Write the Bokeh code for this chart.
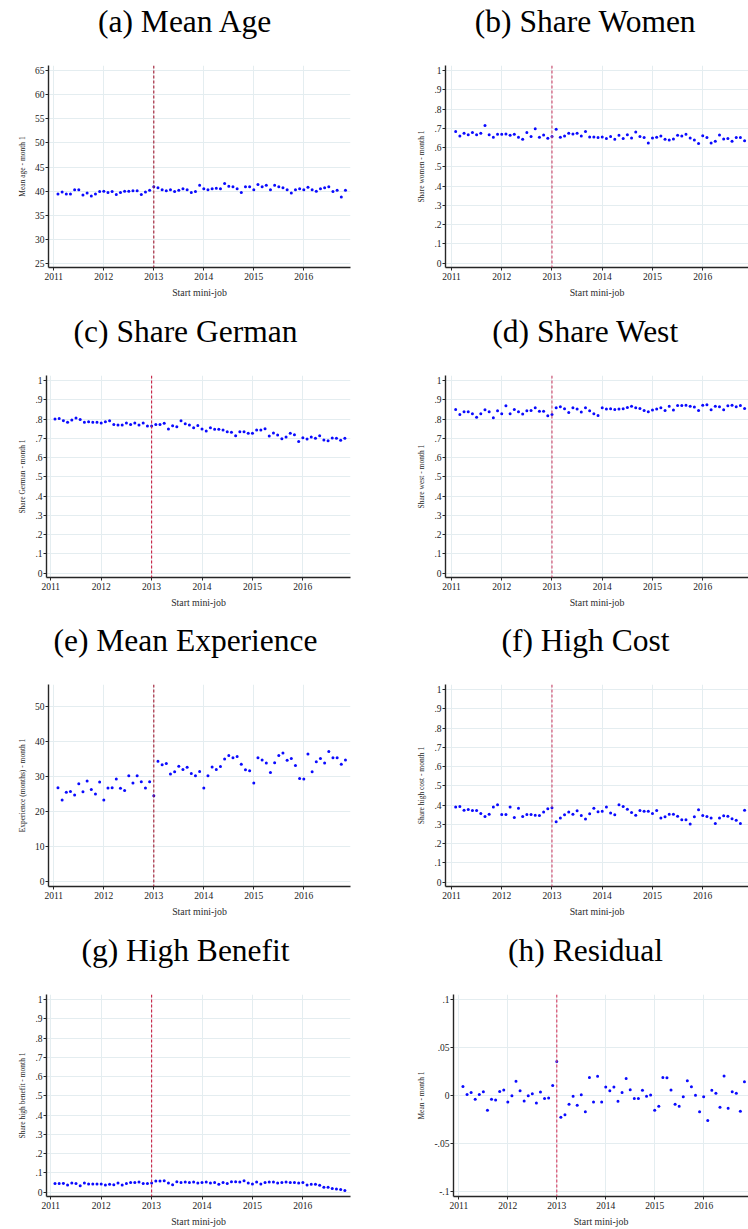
import pandas as pd
from bokeh.plotting import figure
from bokeh.layouts import column, row
from bokeh.models import Span, FixedTicker, Range1d, LinearAxis
from bokeh.embed import file_html
from bokeh.resources import INLINE

# ---------------- data ----------------
months = pd.period_range("2011-02", "2016-11", freq="M")
x_month = [m.year + (m.month - 1) / 12 for m in months]

year_ticks = [2011, 2012, 2013, 2014, 2015, 2016]
reform_date = 2013

mean_age = [39.4, 39.8, 39.4, 39.4, 40.3, 40.3, 39.2, 39.6, 39.0, 39.4,
            39.9, 40.0, 39.7, 39.9, 39.3, 39.7, 40.0, 40.0, 40.1, 40.1,
            39.3, 39.8, 40.2, 40.9, 40.7, 40.3, 40.1, 40.3, 39.9, 40.2,
            40.5, 40.3, 39.7, 39.9, 41.2, 40.5, 40.3, 40.5, 40.6, 40.5,
            41.6, 41.0, 40.9, 40.5, 39.7, 40.9, 40.9, 40.3, 41.4, 40.9,
            41.2, 40.3, 41.2, 40.9, 40.7, 40.3, 39.6, 40.3, 40.5, 40.3,
            40.8, 40.3, 40.0, 40.5, 40.7, 40.9, 39.9, 40.2, 38.8, 40.2]

share_women = [.684, .660, .674, .667, .678, .667, .674, .715, .667, .654,
               .669, .669, .671, .664, .669, .654, .643, .679, .657, .698,
               .654, .666, .648, .657, .695, .654, .660, .674, .671, .674,
               .660, .684, .655, .655, .652, .655, .647, .657, .643, .664,
               .647, .667, .650, .681, .657, .652, .624, .650, .654, .660,
               .643, .640, .645, .664, .660, .669, .650, .640, .621, .662,
               .652, .624, .633, .666, .645, .647, .633, .652, .652, .635]

share_german = [.800, .803, .791, .784, .795, .805, .798, .784, .786, .784,
                .783, .779, .786, .791, .772, .769, .769, .779, .772, .779,
                .769, .779, .764, .764, .772, .772, .778, .748, .765, .760,
                .791, .776, .769, .755, .767, .748, .738, .755, .747, .747,
                .743, .734, .731, .714, .734, .734, .726, .726, .743, .743,
                .750, .712, .728, .717, .698, .707, .726, .719, .683, .703,
                .697, .707, .700, .714, .691, .688, .702, .700, .690, .700]

share_west = [.850, .824, .838, .838, .828, .810, .828, .848, .838, .807,
              .843, .828, .869, .828, .850, .838, .826, .843, .845, .859,
              .840, .840, .817, .824, .859, .864, .853, .834, .859, .852,
              .836, .859, .843, .828, .819, .859, .852, .853, .850, .852,
              .853, .860, .866, .859, .855, .845, .838, .847, .852, .859,
              .845, .866, .847, .871, .871, .872, .867, .862, .845, .872,
              .874, .848, .867, .864, .848, .869, .872, .864, .871, .855]

experience = [26.8, 23.3, 25.5, 25.7, 24.7, 27.9, 25.6, 28.7, 26.3, 25.0,
              28.4, 23.3, 26.7, 26.8, 29.3, 26.6, 26.0, 30.2, 28.1, 30.2,
              28.5, 26.7, 28.5, 24.5, 34.3, 33.3, 33.7, 30.7, 31.3, 32.9,
              32.0, 32.6, 30.8, 30.2, 31.4, 26.7, 30.2, 32.7, 32.0, 32.8,
              35.0, 36.0, 35.3, 35.7, 33.5, 31.9, 31.6, 28.1, 35.3, 34.7,
              33.8, 31.1, 33.9, 36.0, 36.7, 34.6, 35.1, 33.1, 29.4, 29.3,
              36.4, 31.3, 34.2, 35.1, 33.8, 37.1, 35.3, 35.3, 33.5, 34.7]

high_cost = [.390, .393, .374, .378, .372, .372, .357, .341, .353, .390,
             .402, .352, .352, .390, .336, .384, .341, .352, .352, .348,
             .347, .364, .381, .386, .314, .333, .350, .364, .353, .371,
             .347, .328, .355, .384, .366, .369, .390, .359, .350, .402,
             .393, .379, .362, .348, .372, .369, .369, .357, .372, .334,
             .340, .353, .353, .343, .324, .324, .302, .340, .376, .347,
             .341, .333, .305, .334, .345, .343, .329, .322, .305, .374]

high_benefit = [.045, .045, .046, .038, .048, .046, .034, .048, .043, .043,
                .043, .043, .038, .041, .039, .048, .038, .046, .050, .050,
                .053, .046, .045, .048, .058, .058, .060, .048, .039, .055,
                .051, .053, .050, .053, .048, .050, .053, .048, .050, .041,
                .050, .045, .055, .055, .053, .060, .048, .043, .053, .043,
                .050, .053, .053, .048, .051, .053, .050, .050, .048, .051,
                .038, .041, .041, .036, .026, .026, .019, .017, .014, .009]

residual = [.0093, .0010, .0031, -.0041, .0010, .0038, -.0155, -.0041, -.0048, .0041,
            .0055, -.0069, -.0003, .0148, .0048, -.0059, -.0003, .0017, -.0079, .0034,
            -.0034, -.0028, .0103, .0352, -.0228, -.0203, -.0093, -.0010, -.0103, .0007,
            -.0172, .0186, -.0069, .0200, -.0069, .0086, .0048, .0086, -.0062, .0031,
            .0176, .0059, -.0034, -.0034, .0052, -.0010, .0003, -.0155, -.0114, .0186,
            .0183, .0055, -.0093, -.0114, -.0014, .0152, .0090, .0000, -.0172, -.0014,
            -.0262, .0052, .0021, -.0124, .0203, -.0134, .0038, .0021, -.0166, .0141]

share_ticks = [0, 0.1, 0.2, 0.3, 0.4, 0.5, 0.6, 0.7, 0.8, 0.9, 1]
share_tick_labels = ["0", ".1", ".2", ".3", ".4", ".5", ".6", ".7", ".8", ".9", "1"]
age_ticks = [25, 30, 35, 40, 45, 50, 55, 60, 65]
age_tick_labels = [str(t) for t in age_ticks]
exp_ticks = [0, 10, 20, 30, 40, 50]
exp_tick_labels = [str(t) for t in exp_ticks]
res_ticks = [-0.1, -0.05, 0, 0.05, 0.1]
res_tick_labels = ["-.1", "-.05", "0", ".05", ".1"]

titles = ["(a) Mean Age", "(b) Share Women", "(c) Share German", "(d) Share West",
          "(e) Mean Experience", "(f) High Cost", "(g) High Benefit", "(h) Residual"]
ylabels = ["Mean age - month 1", "Share women - month 1", "Share German - month 1",
           "Share west - month 1", "Experience (months) - month 1",
           "Share high cost - month 1", "Share high benefit - month 1", "Mean - month 1"]
xlabel = "Start mini-job"

# ---------------- style ----------------
SERIF = "Liberation Serif"
AX = "#262626"
GRID = "#e4edf0"
FRAME_H = 203
TOP = 64


def make_panel(title, ylab, vals, yt, ytl, yr, xr, width, height, left, right, bottom,
               dash_color, title_center_frac):
    p = figure(width=width, height=height,
               x_range=Range1d(*xr), y_range=Range1d(*yr),
               output_backend="svg", toolbar_location=None,
               min_border_left=left, min_border_right=right,
               min_border_top=TOP, min_border_bottom=bottom,
               background_fill_color="white", border_fill_color="white")
    p.outline_line_color = None
    p.xaxis.ticker = FixedTicker(ticks=year_ticks)
    p.yaxis.ticker = FixedTicker(ticks=yt)
    p.xaxis.major_label_overrides = {t: str(t) for t in year_ticks}
    p.yaxis.major_label_overrides = dict(zip(yt, ytl))
    for ax in (p.xaxis[0], p.yaxis[0]):
        ax.axis_line_color = AX
        ax.axis_line_width = 1.4
        ax.major_tick_line_color = AX
        ax.major_tick_line_width = 1
        ax.major_tick_out = 3
        ax.major_tick_in = 0
        ax.minor_tick_line_color = None
        ax.major_label_text_font = SERIF
        ax.major_label_text_font_size = "9.5px"
        ax.major_label_text_color = "#222222"
        ax.axis_label_text_font = SERIF
        ax.axis_label_text_font_style = "normal"
        ax.axis_label_text_color = "#2a2a2a"
    p.yaxis.axis_label = ylab
    p.yaxis.axis_label_text_font_size = "7.5px"
    p.yaxis.major_label_standoff = 1
    p.yaxis.axis_label_standoff = 5
    p.xaxis.axis_label = xlabel
    p.xaxis.axis_label_text_font_size = "9.8px"
    p.xaxis.major_label_standoff = 2
    p.xaxis.axis_label_standoff = 4
    p.xgrid.grid_line_color = GRID
    p.ygrid.grid_line_color = GRID
    p.xgrid.grid_line_width = 1
    p.ygrid.grid_line_width = 1

    p.add_layout(Span(location=reform_date, dimension="height", line_color=dash_color,
                      line_width=1.1, line_dash="3 2"))
    p.scatter(x_month, vals, size=3.0, marker="circle", color="#0a0aff", line_width=0)

    # panel title: a label-only axis above the frame, centred at the wanted position
    tx = round(xr[0] + title_center_frac * (xr[1] - xr[0]), 4)
    tax = LinearAxis(ticker=FixedTicker(ticks=[tx]), major_label_overrides={tx: title})
    tax.axis_line_color = None
    tax.major_tick_line_color = None
    tax.minor_tick_line_color = None
    tax.major_tick_out = 0
    tax.major_tick_in = 0
    tax.major_label_standoff = 27
    tax.major_label_text_font = SERIF
    tax.major_label_text_font_size = "31.5px"
    tax.major_label_text_color = "#000000"
    p.add_layout(tax, "above")
    return p


share_yr = (-0.022, 1.026)
L_XR = (2010.894, 2016.934)
L2_XR = (2010.915, 2016.945)
R_XR = (2010.881, 2016.911)
H_XR = (2010.890, 2016.916)

heights = [310, 309, 310, 300]
bottoms = [h - TOP - FRAME_H for h in heights]


def frac(center, fl, fr):
    return (center - fl) / (fr - fl)


LW, RW = 382, 366
pa = make_panel(titles[0], ylabels[0], mean_age, age_ticks, age_tick_labels, (24.18, 66.03), L_XR,
                LW, heights[0], 48, 32, bottoms[0], "#a3172f", frac(185, 48, 350))
pb = make_panel(titles[1], ylabels[1], share_women, share_ticks, share_tick_labels, share_yr, R_XR,
                RW, heights[0], 63, 0, bottoms[0], "#cf4468", frac(585, 445, 748))
pc = make_panel(titles[2], ylabels[2], share_german, share_ticks, share_tick_labels, share_yr, L2_XR,
                LW, heights[1], 46, 32, bottoms[1], "#c81e42", frac(185, 46, 350))
pd_ = make_panel(titles[3], ylabels[3], share_west, share_ticks, share_tick_labels, share_yr, R_XR,
                 RW, heights[1], 63, 0, bottoms[1], "#cf4468", frac(585, 445, 748))
pe = make_panel(titles[4], ylabels[4], experience, exp_ticks, exp_tick_labels, (-1.42, 56.24), L_XR,
                LW, heights[2], 48, 32, bottoms[2], "#a3172f", frac(185, 48, 350))
pf = make_panel(titles[5], ylabels[5], high_cost, share_ticks, share_tick_labels, share_yr, R_XR,
                RW, heights[2], 63, 0, bottoms[2], "#cf4468", frac(585, 445, 748))
pg = make_panel(titles[6], ylabels[6], high_benefit, share_ticks, share_tick_labels, share_yr, L2_XR,
                LW, heights[3], 46, 32, bottoms[3], "#c81e42", frac(185, 46, 350))
ph = make_panel(titles[7], ylabels[7], residual, res_ticks, res_tick_labels, (-0.1055, 0.1052), H_XR,
                RW, heights[3], 71, 0, bottoms[3], "#d63a5e", frac(585, 453, 748))

layout = column(row(pa, pb, spacing=0), row(pc, pd_, spacing=0),
                row(pe, pf, spacing=0), row(pg, ph, spacing=0), spacing=0)

open("out.html", "w").write(file_html(layout, INLINE))
